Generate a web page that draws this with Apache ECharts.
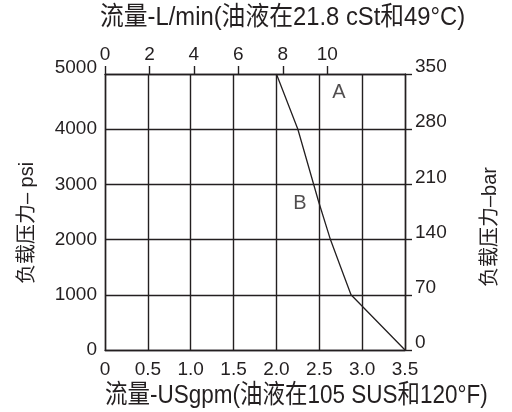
<!DOCTYPE html>
<html>
<head>
<meta charset="utf-8">
<script src="https://cdn.jsdelivr.net/npm/echarts@6/dist/echarts.min.js"></script>
<style>
html,body{margin:0;padding:0;background:#fff;}
#c{width:512px;height:412px;}
</style>
</head>
<body>
<div id="c"></div>
<script>
// Data: flow (US gpm) vs load pressure (psi)
var flowGpm = [2.0, 2.25, 2.49, 2.63, 2.75, 2.87, 3.5];
var pressurePsi = [5000, 4000, 2700, 2000, 1500, 1000, 0];
// Region annotations
var regionNames = ['A', 'B'];
var regionGpm = [2.73, 2.275];
var regionPsi = [4670, 2660];
// Axis tick labels
var topTickValues = [0, 2, 4, 6, 8, 10];
var titleTop = '流量-L/min(油液在21.8 cSt和49°C)';
var titleBottom = '流量-USgpm(油液在105 SUS和120°F)';
var nameLeft = '负载压力– psi';
var nameRight = '负载压力–bar';

var FONT = "'Liberation Sans',Arial,'Noto Sans CJK SC',sans-serif";
var INK = '#231f20';
var TICK_FS = 19;

var chart = echarts.init(document.getElementById('c'), null, {renderer: 'canvas'});
var linePts = flowGpm.map(function (g, i) { return [g, pressurePsi[i]]; });
var annPts = regionNames.map(function (n, i) { return {value: [regionGpm[i], regionPsi[i]], name: n}; });

var gridLine = {show: true, lineStyle: {color: INK, width: 1.4}};
var axisLine = {show: true, onZero: false, lineStyle: {color: INK, width: 1.4}};

chart.setOption({
  animation: false,
  backgroundColor: '#fff',
  grid: {left: 105, right: 107, top: 74, bottom: 62},
  xAxis: [{
    type: 'value', min: 0, max: 3.5, interval: 0.5, position: 'bottom',
    axisLine: axisLine, axisTick: {show: false}, splitLine: gridLine,
    axisLabel: {color: INK, fontSize: TICK_FS, fontFamily: FONT, margin: 10,
      formatter: function (v) { return v === 0 ? '0' : v.toFixed(1); }}
  }, {
    type: 'value', min: 0, max: 13.5, interval: 2, position: 'top',
    axisLine: axisLine,
    axisTick: {show: true, inside: false, length: 8, lineStyle: {color: INK, width: 1.4}, customValues: topTickValues},
    splitLine: {show: false},
    axisLabel: {color: INK, fontSize: TICK_FS, fontFamily: FONT, margin: 10, customValues: topTickValues,
      formatter: function (v) { return topTickValues.indexOf(v) >= 0 ? String(v) : ''; }}
  }],
  yAxis: [{
    type: 'value', min: 0, max: 5000, interval: 1000, position: 'left',
    axisLine: axisLine, axisTick: {show: false}, splitLine: gridLine,
    axisLabel: {color: INK, fontSize: TICK_FS, fontFamily: FONT, margin: 8, lineHeight: 13,
      formatter: function (v) { return v === 5000 ? String(v) + '\n' : String(v); }}
  }, {
    type: 'value', min: 0, max: 350, interval: 70, position: 'right',
    axisLine: axisLine,
    axisTick: {show: true, inside: false, length: 7, lineStyle: {color: INK, width: 1.4}},
    splitLine: {show: false},
    axisLabel: {color: INK, fontSize: TICK_FS, fontFamily: FONT, margin: 10, lineHeight: 14,
      formatter: function (v) { return String(v) + '\n'; }}
  }],
  graphic: [
    {type: 'text', x: 100, y: 18, scaleX: 0.915, style: {text: titleTop, font: "26px " + FONT, fill: INK, align: 'left', verticalAlign: 'middle'}},
    {type: 'text', x: 105, y: 396, scaleX: 0.865, style: {text: titleBottom, font: "26px " + FONT, fill: INK, align: 'left', verticalAlign: 'middle'}},
    {type: 'text', x: 27, y: 223, rotation: Math.PI / 2, style: {text: nameLeft, font: "20px " + FONT, fill: INK, align: 'center', verticalAlign: 'middle'}},
    {type: 'text', x: 490, y: 227, rotation: Math.PI / 2, style: {text: nameRight, font: "20px " + FONT, fill: INK, align: 'center', verticalAlign: 'middle'}}
  ],
  series: [{
    type: 'line', xAxisIndex: 0, yAxisIndex: 0, data: linePts,
    symbol: 'none', lineStyle: {color: INK, width: 1.3}
  }, {
    type: 'scatter', xAxisIndex: 0, yAxisIndex: 0, data: annPts,
    symbolSize: 0, silent: true,
    label: {show: true, position: 'inside', formatter: '{b}', color: INK, fontSize: 20, fontFamily: FONT}
  }]
});
</script>
</body>
</html>
